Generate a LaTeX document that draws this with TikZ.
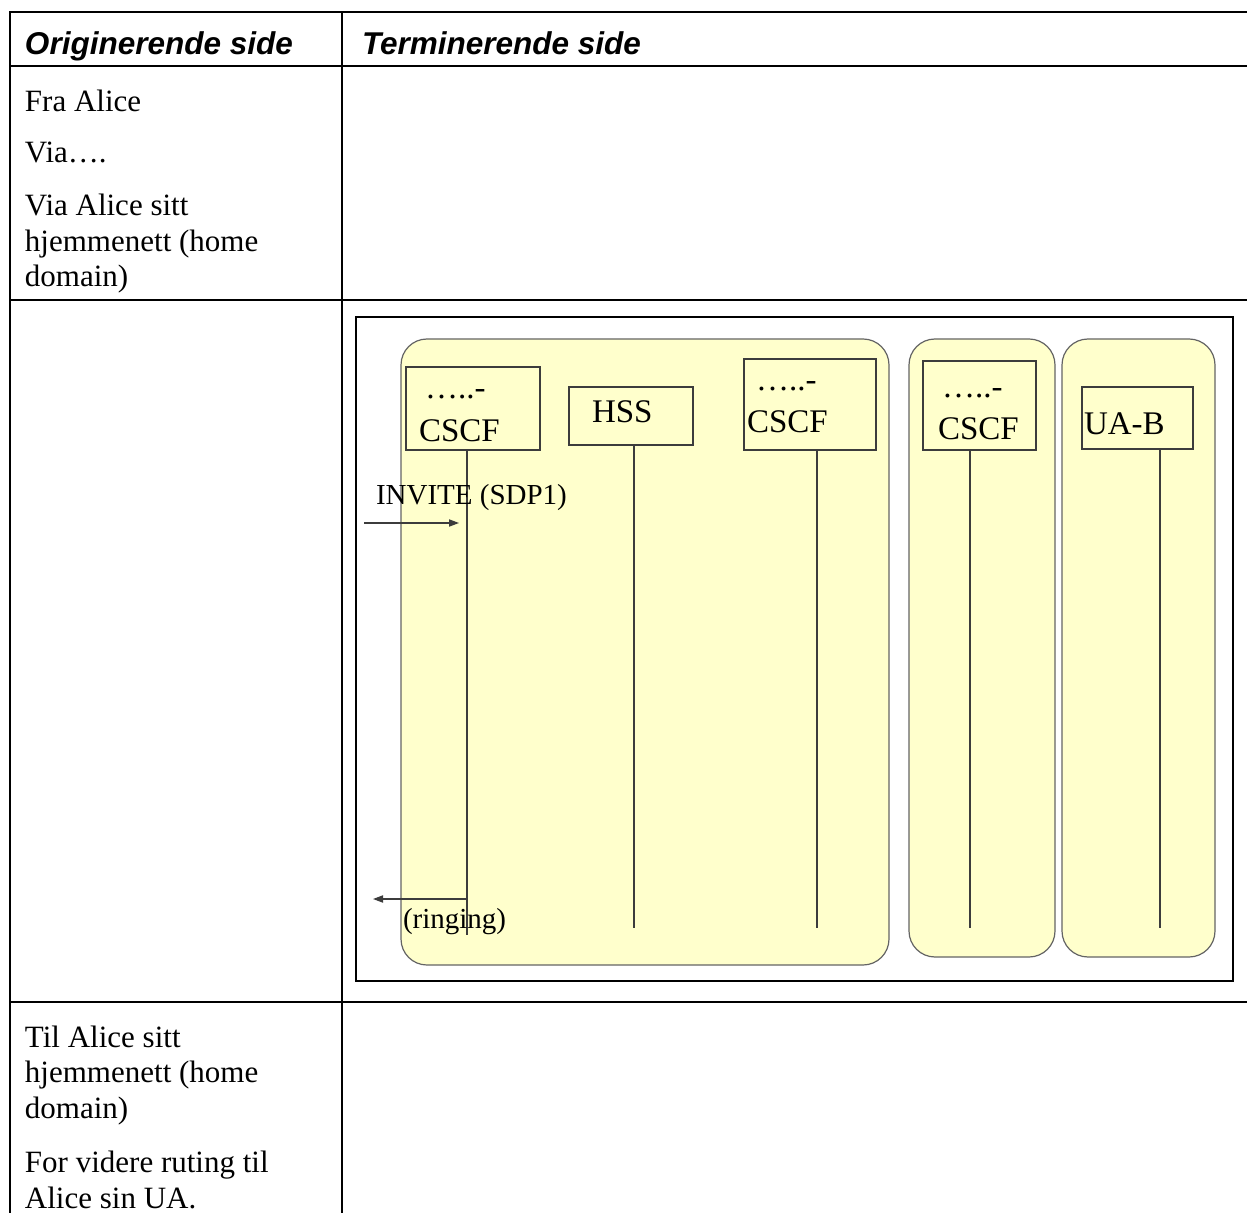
\documentclass[tikz,border=0pt]{standalone}
\usepackage{fontspec}
\setmainfont{Liberation Serif}
\newfontfamily\headfont{Liberation Sans}
\usepackage{tikz}
\usetikzlibrary{arrows.meta,positioning}
\definecolor{paleyellow}{RGB}{255,255,204}
\definecolor{edgegray}{RGB}{100,100,100}
\definecolor{linegray}{RGB}{60,60,60}

\begin{document}
\begin{tikzpicture}[
    x=0.5pt, y=-0.5pt,
    every node/.style={inner sep=0pt, outer sep=0pt},
    grid/.style={line width=1.4pt},
    netdomain/.style={draw=edgegray, fill=paleyellow, line width=0.6pt, rounded corners=13pt},
    entity/.style={draw=linegray, line width=0.6pt, rectangle},
    lifeline/.style={draw=linegray, line width=0.6pt},
    msg/.style={draw=linegray, line width=0.6pt, -{Triangle[length=5pt,width=3.6pt]}},
    head/.style={font=\headfont\bfseries\itshape\fontsize{15.75}{18}\selectfont, anchor=base west},
    cell/.style={font=\fontsize{15.5}{17.75}\selectfont, anchor=base west, align=left},
    ent/.style={font=\fontsize{16.5}{18}\selectfont, anchor=base west},
    lbl/.style={font=\fontsize{14.5}{17}\selectfont, anchor=base west}
  ]

  \useasboundingbox (0,0) rectangle (1247,1213);
  \clip (0,0) rectangle (1247,1213);

  % table grid
  \draw[grid] (1260,12) -- (10,12) -- (10,1225);
  \draw[grid] (342,12) -- (342,1225);
  \draw[grid] (10,66) -- (1260,66);
  \draw[grid] (10,300) -- (1260,300);
  \draw[grid] (10,1002) -- (1260,1002);

  \node[head] (orig) at (25,55) {Originerende side};
  \node[head] (term) at (362,55) {Terminerende side};

  % multi-line cells sit on their last baseline
  \node[cell] (fra) at (25,112) {Fra Alice};
  \node[cell] (via) at (25,163) {Via….};
  \node[cell] (viahome) at (25,287) {Via Alice sitt\\hjemmenett (home\\domain)};
  \node[cell] (tilhome) at (25,1118) {Til Alice sitt\\hjemmenett (home\\domain)};
  \node[cell] (ruting) at (25,1208) {For videre ruting til\\Alice sin UA.};

  % sequence chart
  \draw[line width=1.2pt] (356,317) rectangle (1233,981);
  \draw[netdomain] (401,339) rectangle (889,965);
  \draw[netdomain] (909,339) rectangle (1055,957);
  \draw[netdomain] (1062,339) rectangle (1215,957);

  \node[entity, minimum width=67pt, minimum height=41.5pt] (cscfA) at (473,408.5) {};
  \node[entity, minimum width=62pt, minimum height=29pt] (hss) at (631,416) {};
  \node[entity, minimum width=66pt, minimum height=45.5pt] (cscfB) at (810,404.5) {};
  \node[entity, minimum width=56.5pt, minimum height=44.5pt] (cscfC) at (979.5,405.5) {};
  \node[entity, minimum width=55.5pt, minimum height=31pt] (uab) at (1137.5,418) {};

  \node[ent] (cscfA-dots) at (425,399) {…..-};
  \node[ent] (cscfA-name) at (419,442) {CSCF};
  \node[ent] (hss-name) at (592,423) {HSS};
  \node[ent] (cscfB-dots) at (756,391) {…..-};
  \node[ent] (cscfB-name) at (747,433) {CSCF};
  \node[ent] (cscfC-dots) at (942,398) {…..-};
  \node[ent] (cscfC-name) at (938,440) {CSCF};
  \node[ent] (uab-name) at (1084,435) {UA-B};

  \coordinate (cscfA-end) at (467,935);
  \coordinate (hss-end) at (634,928);
  \coordinate (cscfB-end) at (817,928);
  \coordinate (cscfC-end) at (970,928);
  \coordinate (uab-end) at (1160,928);

  \draw[lifeline] (cscfA.south -| cscfA-end) -- (cscfA-end);
  \draw[lifeline] (hss.south -| hss-end) -- (hss-end);
  \draw[lifeline] (cscfB.south -| cscfB-end) -- (cscfB-end);
  \draw[lifeline] (cscfC.south -| cscfC-end) -- (cscfC-end);
  \draw[lifeline] (uab.south -| uab-end) -- (uab-end);

  % messages
  \coordinate (invite-in) at (364,523);
  \coordinate (invite-tip) at (459,523);
  \coordinate (ring-out) at (373,899);
  \draw[msg] (invite-in) -- (invite-tip);
  \draw[msg] (cscfA-end |- ring-out) -- (ring-out);

  \node[lbl] (invite) at (376,505) {INVITE (SDP1)};
  \node[lbl] (ringing) at (403,928) {(ringing)};

\end{tikzpicture}
\end{document}
